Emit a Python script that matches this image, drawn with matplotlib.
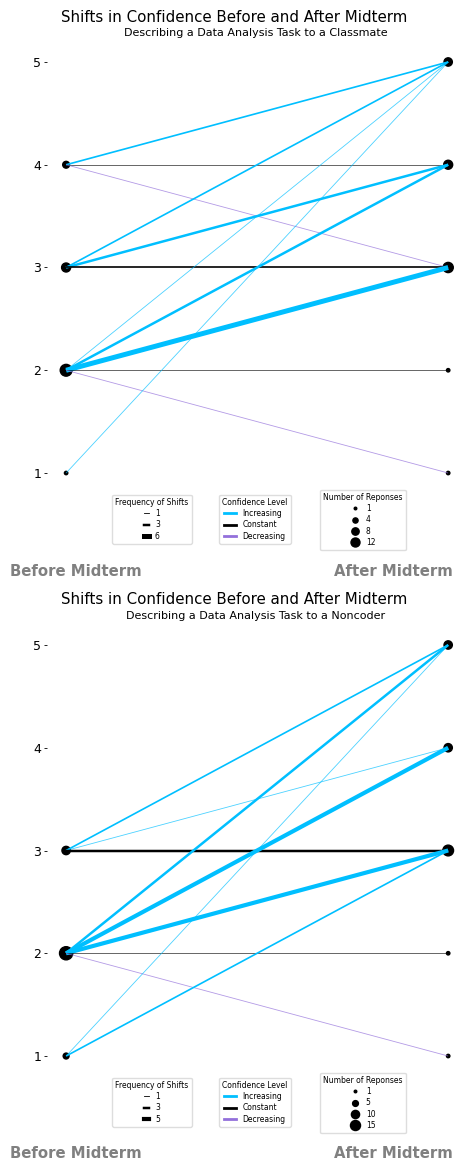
import matplotlib.pyplot as plt
from matplotlib.lines import Line2D

title = "Shifts in Confidence Before and After Midterm"
subtitles = ["Describing a Data Analysis Task to a Classmate",
             "Describing a Data Analysis Task to a Noncoder"]

# (before, after, frequency)
shifts_classmate = [(4, 5, 2), (4, 4, 1), (4, 3, 1),
                    (3, 5, 2), (3, 4, 3), (3, 3, 2),
                    (2, 5, 1), (2, 4, 3), (2, 3, 6), (2, 2, 1), (2, 1, 1),
                    (1, 5, 1)]
shifts_noncoder = [(3, 5, 2), (3, 4, 1), (3, 3, 3),
                   (2, 5, 3), (2, 4, 5), (2, 3, 5), (2, 2, 1), (2, 1, 1),
                   (1, 5, 1), (1, 3, 2)]
freq_legend = [[1, 3, 6], [1, 3, 5]]
resp_legend = [[1, 4, 8, 12], [1, 5, 10, 15]]
levels = [1, 2, 3, 4, 5]

colors = {"Increasing": "#00BFFF", "Constant": "black", "Decreasing": "mediumpurple"}

LW = 0.6
MS = 6

fig = plt.figure(figsize=(4.55, 11.63), dpi=100)
H = 1163.0
W = 455.0

panels = [shifts_classmate, shifts_noncoder]
offsets = [0, 583]

for i, shifts in enumerate(panels):
    off = offsets[i]
    top = 1 - (51.7 + off) / H
    bot = 1 - (483.3 + off) / H
    ax = fig.add_axes([47 / W, bot, 405 / W, top - bot])

    before_counts = {}
    after_counts = {}
    for b, a, f in shifts:
        before_counts[b] = before_counts.get(b, 0) + f
        after_counts[a] = after_counts.get(a, 0) + f
        if a > b:
            c = colors["Increasing"]
        elif a == b:
            c = colors["Constant"]
        else:
            c = colors["Decreasing"]
        alpha = 0.7 if f == 1 else 1.0
        ax.plot([0, 1], [b, a], color=c, lw=LW * f, alpha=alpha, zorder=3,
                solid_capstyle='butt')

    ax.scatter([0] * len(before_counts), list(before_counts.keys()),
               s=[MS * v for v in before_counts.values()], color='black', zorder=2, clip_on=False)
    ax.scatter([1] * len(after_counts), list(after_counts.keys()),
               s=[MS * v for v in after_counts.values()], color='black', zorder=2, clip_on=False)

    ax.set_xlim(-0.05, 1.01)
    ax.set_ylim(0.9, 5.1)
    ax.set_yticks(levels)
    ax.set_xticks([])
    ax.tick_params(axis='y', labelsize=9, length=2, width=0.6, pad=2)
    for s in ax.spines.values():
        s.set_visible(False)

    fig.text(234 / W, 1 - (17 + off) / H, title, ha='center', va='center', fontsize=10.8)
    fig.text(256 / W, 1 - (33 + off) / H, subtitles[i], ha='center', va='center', fontsize=8)

    fig.text(10 / W, 1 - (571 + off) / H, "Before Midterm", ha='left', va='center',
             fontsize=10.7, fontweight='bold', color='gray')
    fig.text(453 / W, 1 - (571 + off) / H, "After Midterm", ha='right', va='center',
             fontsize=10.7, fontweight='bold', color='gray')

    h1 = [Line2D([], [], color='black', lw=LW * f) for f in freq_legend[i]]
    fig.legend(h1, [str(f) for f in freq_legend[i]], title="Frequency of Shifts",
               loc='upper center', bbox_to_anchor=(152 / W, 1 - (491 + off) / H),
               fontsize=5.5, title_fontsize=5.5, handlelength=0.6, frameon=True,
               framealpha=1, edgecolor='#dddddd', fancybox=True, labelspacing=0.3)
    h2 = [Line2D([], [], color=colors[k], lw=2) for k in colors]
    fig.legend(h2, list(colors.keys()), title="Confidence Level",
               loc='upper center', bbox_to_anchor=(255 / W, 1 - (491 + off) / H),
               fontsize=5.5, title_fontsize=5.5, handlelength=1.6, frameon=True,
               framealpha=1, edgecolor='#dddddd', fancybox=True, labelspacing=0.3)
    h3 = [Line2D([], [], color='black', marker='o', ls='', markersize=(3.5 * v) ** 0.5)
          for v in resp_legend[i]]
    fig.legend(h3, [str(v) for v in resp_legend[i]], title="Number of Reponses",
               loc='upper center', bbox_to_anchor=(363 / W, 1 - (486 + off) / H),
               fontsize=5.5, title_fontsize=5.5, handlelength=1.2, frameon=True,
               framealpha=1, edgecolor='#dddddd', fancybox=True, labelspacing=0.3)

fig.savefig("out.png", dpi=100)
